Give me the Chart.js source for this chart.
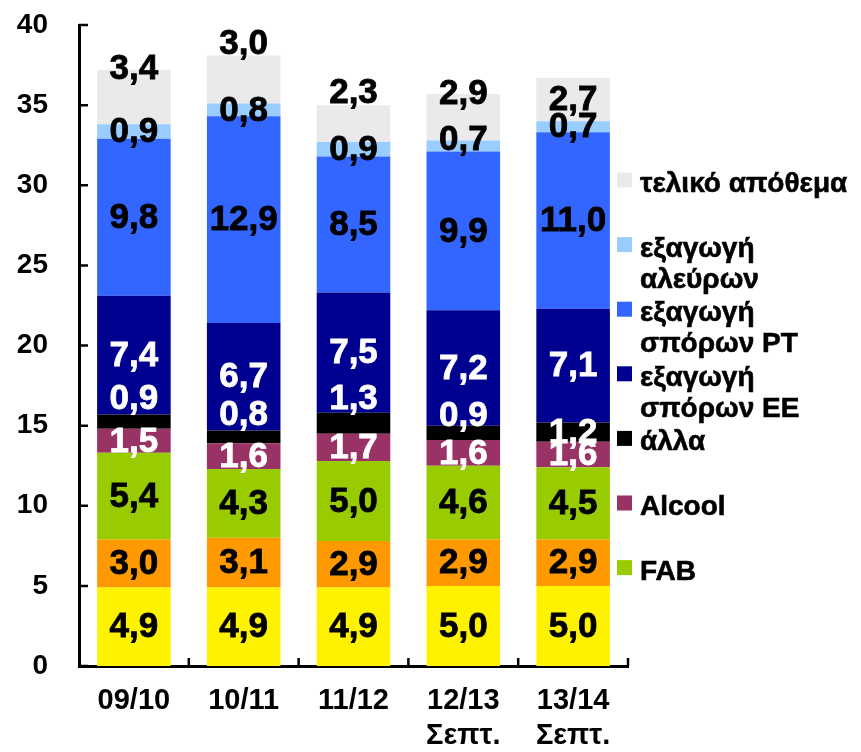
<!DOCTYPE html>
<html>
<head>
<meta charset="utf-8">
<script src="https://cdn.jsdelivr.net/npm/chart.js@4"></script>
<style>
html, body { margin: 0; padding: 0; background: #fff; overflow: hidden; }
#wrap { width: 861px; height: 755px; position: relative; }
</style>
</head>
<body>
<div id="wrap"><canvas id="chart"></canvas></div>
<script>
const years = [['09/10'], ['10/11'], ['11/12'], ['12/13', 'Σεπτ.'], ['13/14', 'Σεπτ.']];
const yTicks = [0, 5, 10, 15, 20, 25, 30, 35, 40];

// bottom to top
const foodUse     = [4.9, 4.9, 4.9, 5.0, 5.0];
const otherUse    = [3.0, 3.1, 2.9, 2.9, 2.9];
const fab         = [5.4, 4.3, 5.0, 4.6, 4.5];
const alcool      = [1.5, 1.6, 1.7, 1.6, 1.6];
const alla        = [0.9, 0.8, 1.3, 0.9, 1.2];
const exportEE    = [7.4, 6.7, 7.5, 7.2, 7.1];
const exportPT    = [9.8, 12.9, 8.5, 9.9, 11.0];
const exportFlour = [0.9, 0.8, 0.9, 0.7, 0.7];
const endStock    = [3.4, 3.0, 2.3, 2.9, 2.7];

// label nudges (px) where the labels were moved off the segment centre
const nudge = {
  'άλλα': [-23, -22, -25, -17, 0],
  'εξαγωγή\nαλεύρων': [0, 0, 0, -7, 0],
  'τελικό απόθεμα': [-29, -36, -31, -24, 0]
};

function ds(label, data, color, textColor) {
  return { label: label, data: data, backgroundColor: color, textColor: textColor,
           borderWidth: 0, barPercentage: 0.67, categoryPercentage: 1 };
}

const datasets = [
  ds('', foodUse, '#FFF200', '#000'),
  ds('', otherUse, '#FF9900', '#000'),
  ds('FAB', fab, '#99CC00', '#000'),
  ds('Alcool', alcool, '#993366', '#fff'),
  ds('άλλα', alla, '#000000', '#fff'),
  ds('εξαγωγή\nσπόρων ΕΕ', exportEE, '#000090', '#fff'),
  ds('εξαγωγή\nσπόρων PT', exportPT, '#3366FF', '#000'),
  ds('εξαγωγή\nαλεύρων', exportFlour, '#99CCFF', '#000'),
  ds('τελικό απόθεμα', endStock, '#EAEAEA', '#000')
];

const FONT = '"Liberation Sans", Arial, sans-serif';

const innerTicks = {
  id: 'innerTicks',
  afterDraw(chart) {
    const { ctx, chartArea: a, scales: { x, y } } = chart;
    ctx.save();
    ctx.strokeStyle = '#000';
    ctx.lineWidth = 2.5;
    ctx.beginPath();
    y.ticks.forEach(t => {
      const py = y.getPixelForValue(t.value);
      ctx.moveTo(a.left, py);
      ctx.lineTo(a.left + 9, py);
    });
    const n = x.ticks.length;
    const w = (a.right - a.left) / n;
    for (let i = 1; i <= n; i++) {
      const px = a.left + i * w;
      ctx.moveTo(px, a.bottom);
      ctx.lineTo(px, a.bottom - 8);
    }
    ctx.stroke();
    ctx.restore();
  }
};

const barLabels = {
  id: 'barLabels',
  afterDatasetsDraw(chart) {
    const ctx = chart.ctx;
    ctx.save();
    ctx.font = 'bold 35px ' + FONT;
    ctx.textAlign = 'center';
    ctx.textBaseline = 'middle';
    ctx.lineWidth = 0.8;
    chart.data.datasets.forEach((d, i) => {
      const meta = chart.getDatasetMeta(i);
      const off = nudge[d.label] || [];
      meta.data.forEach((bar, j) => {
        const cy = (bar.y + bar.base) / 2 + (off[j] || 0);
        const txt = d.data[j].toFixed(1).replace('.', ',');
        ctx.fillStyle = d.textColor;
        ctx.strokeStyle = d.textColor;
        ctx.fillText(txt, bar.x, cy + 1);
        ctx.strokeText(txt, bar.x, cy + 1);
      });
    });
    ctx.restore();
  }
};

const sideLegend = {
  id: 'sideLegend',
  afterDraw(chart) {
    const ctx = chart.ctx;
    const items = chart.data.datasets.filter(d => d.label).reverse();
    ctx.save();
    ctx.font = 'bold 28px ' + FONT;
    ctx.textAlign = 'left';
    ctx.textBaseline = 'alphabetic';
    ctx.lineWidth = 0.6;
    items.forEach((d, k) => {
      const cy = 180 + k * 64.6;
      ctx.fillStyle = d.backgroundColor;
      ctx.fillRect(617, cy - 7.5, 15, 15);
      ctx.fillStyle = '#000';
      ctx.strokeStyle = '#000';
      d.label.split('\n').forEach((line, l) => {
        ctx.fillText(line, 640, cy + 12 + l * 31);
        ctx.strokeText(line, 640, cy + 12 + l * 31);
      });
    });
    ctx.restore();
  }
};

new Chart(document.getElementById('chart').getContext('2d'), {
  type: 'bar',
  data: { labels: years, datasets: datasets },
  options: {
    responsive: true,
    maintainAspectRatio: false,
    animation: false,
    layout: { padding: { top: 25, right: 233, left: 17, bottom: 0 } },
    plugins: { legend: { display: false }, tooltip: { enabled: false } },
    scales: {
      x: {
        stacked: true,
        afterFit: s => { s.height = 89; },
        grid: { display: false, drawTicks: false },
        border: { display: true, color: '#000', width: 3 },
        ticks: { color: '#000', padding: 17, maxRotation: 0,
                 font: { family: FONT, size: 29, weight: 'bold', lineHeight: 1.22 } }
      },
      y: {
        stacked: true,
        min: 0, max: 40,
        afterBuildTicks: s => { s.ticks = yTicks.map(v => ({ value: v })); },
        afterFit: s => { s.width = 62; s.paddingTop = 0; s.paddingBottom = 0; },
        grid: { display: false, drawTicks: false },
        border: { display: true, color: '#000', width: 3 },
        ticks: { color: '#000', padding: 31,
                 font: { family: FONT, size: 28, weight: 'bold' } }
      }
    }
  },
  plugins: [innerTicks, barLabels, sideLegend]
});
</script>
</body>
</html>
